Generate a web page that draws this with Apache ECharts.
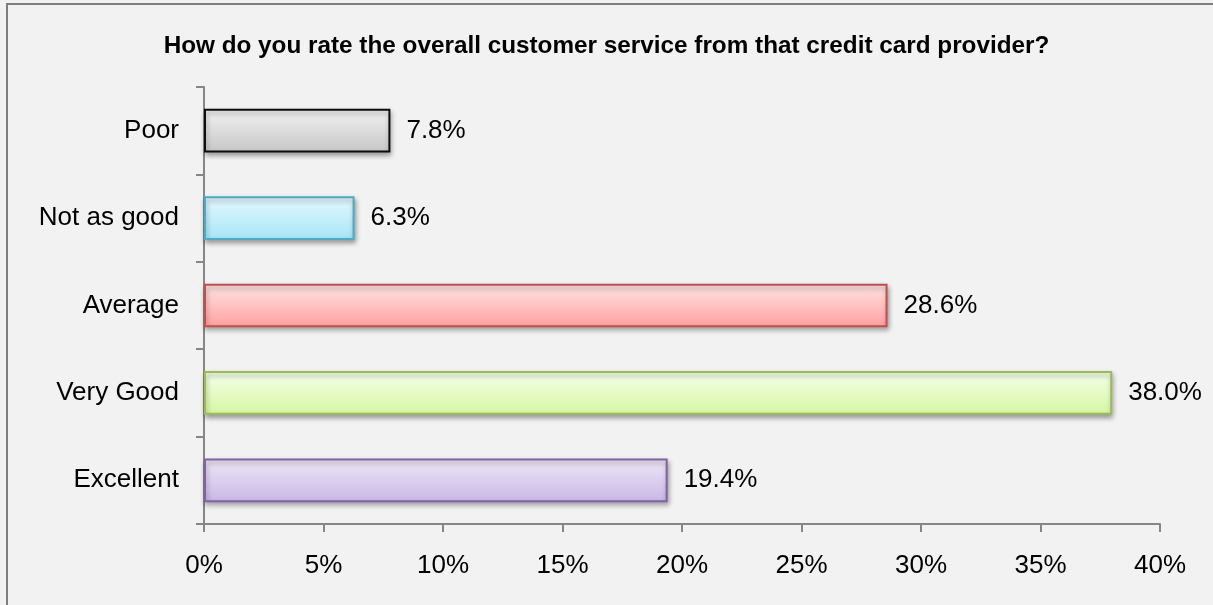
<!DOCTYPE html>
<html>
<head>
<meta charset="utf-8">
<script src="https://cdn.jsdelivr.net/npm/echarts@6/dist/echarts.min.js"></script>
<style>
  html, body { margin: 0; padding: 0; background: #f2f2f2; }
  #chart { width: 1213px; height: 605px; }
</style>
</head>
<body>
<div id="chart"></div>
<script>
// Survey answers, top to bottom as shown
const categories = ['Poor', 'Not as good', 'Average', 'Very Good', 'Excellent'];
const shares = [7.8, 6.3, 28.6, 38.0, 19.4];
const tickLabels = ['0%', '5%', '10%', '15%', '20%', '25%', '30%', '35%', '40%'];

// Per-answer fill gradient (top, bottom) and outline
const fillTop = ['#f2f2f2', '#e6f9fe', '#ffe4e4', '#f5ffea', '#eee8f7'];
const fillBottom = ['#c6c6c6', '#a6e5f8', '#ff9f9f', '#d6f7a2', '#c9b6e6'];
const outline = ['#0d0d0d', '#4bacc6', '#c0504d', '#9bbb59', '#8064a2'];

const FONT = 'Liberation Sans, Arial, sans-serif';

const chart = echarts.init(document.getElementById('chart'), null, { renderer: 'canvas' });

chart.setOption({
  backgroundColor: '#f2f2f2',
  animation: false,
  graphic: [{
    type: 'rect',
    z: -10,
    silent: true,
    shape: { x: 7, y: 4, width: 1400, height: 800 },
    style: { fill: '#f2f2f2', stroke: '#7f7f7f', lineWidth: 2 }
  }],
  title: {
    text: 'How do you rate the overall customer service from that credit card provider?',
    left: 'center',
    top: 29,
    textStyle: { fontFamily: FONT, fontSize: 24.3, fontWeight: 'bold', color: '#000' }
  },
  grid: { left: 204, right: 53, top: 87, bottom: 81, containLabel: false },
  xAxis: {
    type: 'value',
    min: 0,
    max: 40,
    interval: 5,
    splitLine: { show: false },
    axisLine: { show: true, lineStyle: { color: '#868686', width: 2 } },
    axisTick: { show: true, length: 8, lineStyle: { color: '#868686', width: 2 } },
    axisLabel: {
      margin: 29,
      fontFamily: FONT,
      fontSize: 26,
      color: '#000',
      formatter: (v) => tickLabels[Math.round(v / 5)]
    }
  },
  yAxis: {
    type: 'category',
    inverse: true,
    data: categories,
    axisLine: { show: true, lineStyle: { color: '#868686', width: 2 } },
    axisTick: { show: true, length: 8, alignWithLabel: false, lineStyle: { color: '#868686', width: 2 } },
    axisLabel: { margin: 25, fontFamily: FONT, fontSize: 26, color: '#000' }
  },
  series: [{
    type: 'bar',
    barWidth: '50%',
    data: shares.map((v, i) => ({
      value: v,
      itemStyle: {
        color: new echarts.graphic.LinearGradient(0, 0, 0, 1, [
          { offset: 0, color: fillTop[i] },
          { offset: 1, color: fillBottom[i] }
        ]),
        borderColor: outline[i],
        borderWidth: 2,
        shadowColor: 'rgba(0,0,0,0.35)',
        shadowBlur: 5,
        shadowOffsetX: 1,
        shadowOffsetY: 3
      }
    })),
    label: {
      show: true,
      position: 'right',
      distance: 16,
      fontFamily: FONT,
      fontSize: 26,
      color: '#000',
      formatter: (p) => p.value.toFixed(1) + '%'
    }
  }]
});
</script>
</body>
</html>
